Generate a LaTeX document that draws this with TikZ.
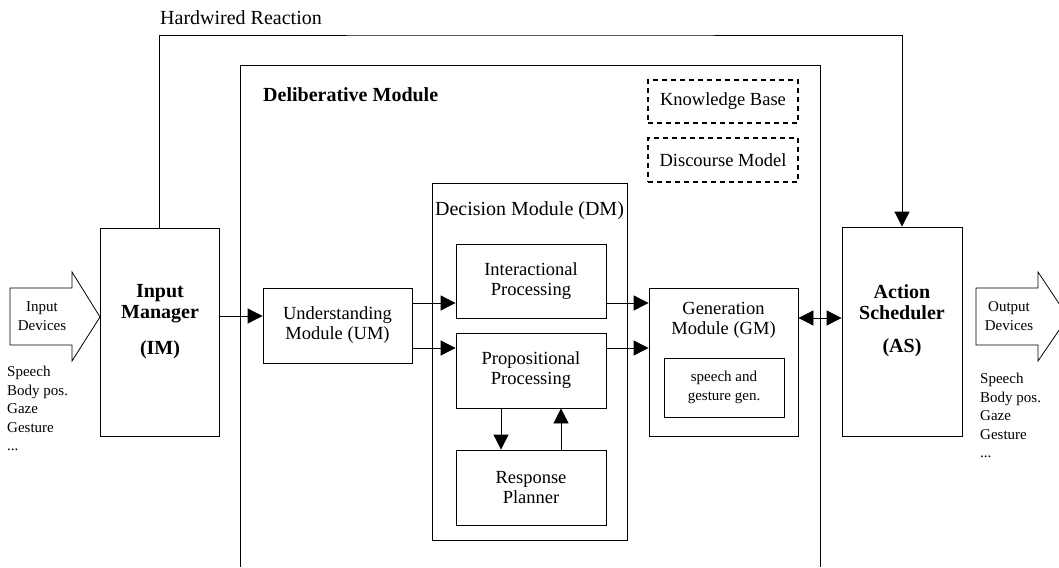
\documentclass[tikz,border=0pt]{standalone}
\usepackage{fontspec}
\setmainfont{Liberation Serif}
\usepackage{tikz}
\usetikzlibrary{calc}
\usetikzlibrary{arrows.meta}
\tikzset{
    box/.style={draw, line width=0.8pt, align=center, inner sep=0pt},
    kbox/.style={draw, line width=1.4pt, dash pattern=on 5pt off 4pt, align=center, inner sep=0pt},
    arr/.style={line width=0.8pt, -{Triangle[length=15pt,width=15pt]}},
    big/.style={font=\fontsize{20}{21}\selectfont\bfseries},
    txt/.style={font=\fontsize{18.5}{20}\selectfont},
    small/.style={font=\fontsize{15}{18.5}\selectfont},
}
\begin{document}
\begin{tikzpicture}[x=1pt, y=-1pt]
    \useasboundingbox (0,0) rectangle (1059,567);
    % deliberative module (runs off the bottom)
    \draw[line width=0.8pt] (240,567) |- (820,65) -- (820,567);
    \node[big, anchor=west, inner sep=0pt] (DelLbl) at (263,95) {Deliberative Module};
    \node[kbox, txt, minimum width=150pt, minimum height=43pt] (KB) at (723,101.5) {Knowledge Base};
    \node[kbox, txt, minimum width=150pt, minimum height=44pt] (DiscM) at (723,160) {Discourse Model};
    % input and output
    \draw[line width=0.8pt] (10,288) -- (72,288) -- (72,272) -- (100,317) -- (72,361) -- (72,345) -- (10,345) -- cycle;
    \node[small, align=center] (InDev) at (42,316) {Input\\Devices};
    \node[small, align=left, anchor=north west, inner sep=0pt] (InList) at (7,366) {Speech\\Body pos.\\Gaze\\Gesture\\...};
    \draw[line width=0.8pt] (976,288) -- (1038,288) -- (1038,272) -- (1068,317) -- (1038,361) -- (1038,345) -- (976,345) -- cycle;
    \node[small, align=center] (OutDev) at (1009,316) {Output\\Devices};
    \node[small, align=left, anchor=north west, inner sep=0pt] (OutList) at (980,373) {Speech\\Body pos.\\Gaze\\Gesture\\...};
    % managers
    \node[box, minimum width=119pt, minimum height=208pt] (IM) at (159.5,332) {};
    \node[big, align=center] at (160,304) {Input\\Manager};
    \node[big] at (160,350) {(IM)};
    \node[box, minimum width=120pt, minimum height=209pt] (AS) at (902,331.5) {};
    \node[big, align=center] at (902,302) {Action\\Scheduler};
    \node[big] at (902,348) {(AS)};
    % modules
    \node[box, txt, minimum width=149pt, minimum height=75pt] (UM) at (337.5,325.5) {Understanding\\Module (UM)};
    \node[box, minimum width=195pt, minimum height=357pt] (DM) at (529.5,361.5) {};
    \node[font=\fontsize{20}{21}\selectfont] (DMLbl) at (529.5,211) {Decision Module (DM)};
    \node[box, txt, minimum width=150pt, minimum height=74pt] (IP) at (531,281) {Interactional\\Processing};
    \node[box, txt, minimum width=150pt, minimum height=75pt] (PP) at (531,370.5) {Propositional\\Processing};
    \node[box, txt, minimum width=150pt, minimum height=75pt] (RP) at (531,487.5) {Response\\Planner};
    \node[box, minimum width=149pt, minimum height=148pt] (GM) at (723.5,362) {};
    \node[txt, align=center] (GMLbl) at (723.5,320) {Generation\\Module (GM)};
    \node[box, small, minimum width=120pt, minimum height=59pt] (SG) at (724,387.5) {speech and\\gesture gen.};
    % connectors
    \draw[arr] (IM.east |- 0,316) -- (UM.west |- 0,316);
    \draw[arr] (UM.east |- 0,303) -- (IP.west |- 0,303);
    \draw[arr] (UM.east |- 0,348) -- (PP.west |- 0,348);
    \draw[arr] (IP.east |- 0,303) -- (GM.west |- 0,303);
    \draw[arr] (PP.east |- 0,348) -- (GM.west |- 0,348);
    \draw[arr] (PP.south -| 501,0) -- (RP.north -| 501,0);
    \draw[arr] (RP.north -| 561,0) -- (PP.south -| 561,0);
    \draw[line width=0.8pt, {Triangle[length=15pt,width=15pt]}-{Triangle[length=15pt,width=15pt]}] (GM.east |- 0,318) -- (AS.west |- 0,318);
    % hardwired path
    \coordinate (HW) at (530,35);
    \draw[arr] (IM.north) |- (HW) -| (AS.north);
    \node[font=\fontsize{20}{21}\selectfont, anchor=west, inner sep=0pt] (HWLbl) at (160,18) {Hardwired Reaction};
\end{tikzpicture}
\end{document}
